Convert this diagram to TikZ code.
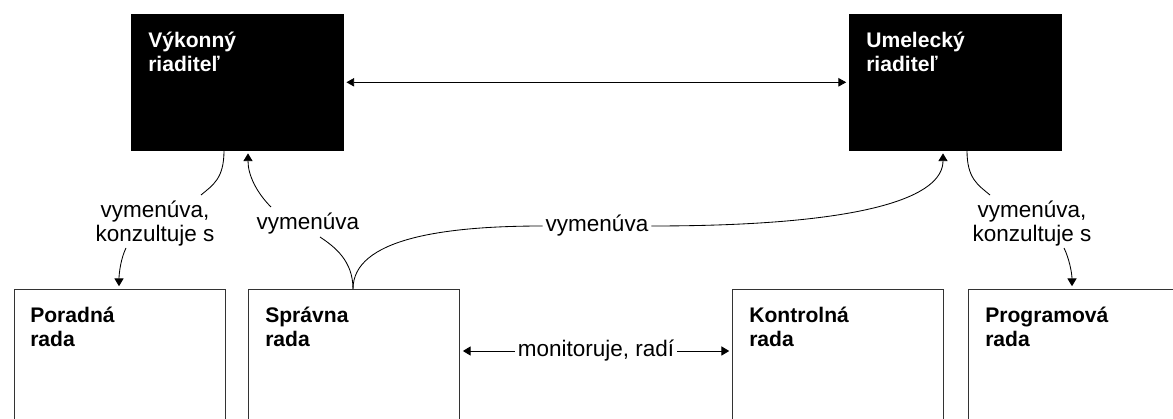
\documentclass[tikz,border=0pt]{standalone}
\usepackage{fontspec}
\setmainfont{Liberation Sans}
\usetikzlibrary{arrows.meta,calc}
\begin{document}
\begin{tikzpicture}
		[	x=0.025cm,y=-0.025cm,
		head/.style={rectangle,draw=black,fill=black,minimum width=5.3cm,minimum height=3.4cm,anchor=north west,inner sep=0pt},
		board/.style={rectangle,draw=black!80,line width=.6pt,fill=white,minimum width=5.28cm,minimum height=4cm,anchor=north west,inner sep=0pt},
		title/.style={anchor=north west,align=left,inner sep=0pt,font=\bfseries\fontsize{15}{17}\selectfont},
		tag/.style={align=center,inner sep=2pt,font=\fontsize{16}{17}\selectfont},
		link/.style={draw=black,line width=.6pt},
		arr/.style={link,-{Triangle[width=6.5pt,length=5.5pt]},shorten >=2pt},
		twoway/.style={link,{Triangle[width=6pt,length=5.5pt]}-{Triangle[width=6pt,length=5.5pt]},shorten >=2pt,shorten <=2pt}
		]
		\useasboundingbox (0,0) rectangle (1173,419);
		\node[head] (exec) at (131,14){};
		\node[head] (art) at (849,14){};
		\node[board] (poradna) at (14,289){};
		\node[board] (spravna) at (248,289){};
		\node[board] (kontrolna) at (732,289){};
		\node[board] (programova) at (968,289){};
\node[title,text=white] (execT) at ($(exec.north west)+(17,18)$){Výkonný\\riaditeľ};
\node[title,text=white] (artT) at ($(art.north west)+(17,18)$){Umelecký\\riaditeľ};
\node[title] (poradnaT) at ($(poradna.north west)+(16,18)$){Poradná\\rada};
\node[title] (spravnaT) at ($(spravna.north west)+(17,18)$){Správna\\rada};
\node[title] (kontrolnaT) at ($(kontrolna.north west)+(17,18)$){Kontrolná\\rada};
\node[title] (programovaT) at ($(programova.north west)+(17,18)$){Programová\\rada};
		\draw[twoway] (exec.east) -- (art.west);
		\node[tag] (vym1) at (155,224){vymenúva,\\konzultuje s};
		\coordinate (a1) at (201,195);
		\coordinate (a2) at (126,248);
		\draw[link] ($(exec.south west)+(93,0)$) .. controls +(0,28) and +(12,-10) .. (a1);
		\draw[arr] (a2) .. controls +(-5,10) and +(0,-16) .. ($(poradna.north west)+(105,0)$);
		\node[tag] (vym2) at (308,224){vymenúva};
		\coordinate (b1) at (320,237);
		\coordinate (b2) at (271,207);
		\draw[link] ($(spravna.north west)+(105,0)$) .. controls +(0,-28) and +(15,10) .. (b1);
		\draw[arr] (b2) .. controls +(-14,-14) and +(0,25) .. ($(exec.south west)+(117,0)$);
		\node[tag] (vym3) at (597,226){vymenúva};
		\draw[link] ($(spravna.north west)+(105,0)$) .. controls +(0,-50) and +(-100,0) .. (vym3.west);
		\draw[arr] (vym3.east) .. controls +(220,0) and +(0,45) .. ($(art.south west)+(94,0)$);
		\node[tag] (vym4) at (1032,224){vymenúva,\\konzultuje s};
		\coordinate (d1) at (990,195);
		\coordinate (d2) at (1064,248);
		\draw[link] ($(art.south west)+(118,0)$) .. controls +(0,28) and +(-12,-10) .. (d1);
		\draw[arr] (d2) .. controls +(5,10) and +(0,-16) .. ($(programova.north west)+(104,0)$);
		\node[tag] (mon) at (596,351){monitoruje, radí};
		\draw[arr] (mon.west) -- (mon -| spravna.east);
		\draw[arr] (mon.east) -- (mon -| kontrolna.west);
	\end{tikzpicture}
\end{document}
